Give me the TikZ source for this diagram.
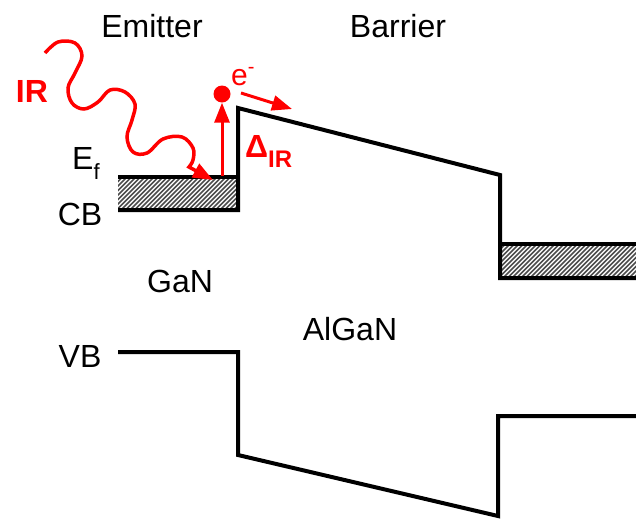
\documentclass[tikz,border=0pt]{standalone}
\usepackage{fontspec}
\setmainfont{Liberation Sans}
\usetikzlibrary{arrows.meta}
\definecolor{irred}{RGB}{255,0,0}
\begin{document}
\begin{tikzpicture}[x=1pt,y=-1pt,
  band/.style={line width=4pt,line join=miter},
  hatchline/.style={line width=1.6pt,black!70},
  lbl/.style={inner sep=0pt,anchor=base,font=\fontsize{32}{36}\selectfont},
  redlbl/.style={inner sep=0pt,anchor=base west,text=irred,font=\fontsize{32}{36}\selectfont\bfseries},
  redarrow/.style={irred,line width=3pt,-{Triangle[length=20pt,width=15pt]}},
  wave/.style={irred,line width=3.5pt}]
\useasboundingbox (0,0) rectangle (636,520);
% hatched Fermi seas
\begin{scope}
  \clip (118,177) rectangle (238,210);
  \foreach \i in {0,4.5,...,170} \draw[hatchline] (118+\i-40,217) -- (118+\i,177);
\end{scope}
\begin{scope}
  \clip (500,244) rectangle (636,278);
  \foreach \i in {0,4.5,...,190} \draw[hatchline] (500+\i-40,285) -- (500+\i,245);
\end{scope}
% conduction band
\draw[band] (118,210) -- (238,210) -- (238,108) -- (500,175) -- (500,278) -- (636,278);
\draw[band] (118,177) -- (238,177);
\draw[band] (500,244) -- (636,244);
% valence band
\draw[band] (118,352) -- (238,352) -- (238,455) -- (498,516) -- (498,416) -- (636,416);
% labels
\node[lbl] (emitter) at (152,37) {Emitter};
\node[lbl] (barrier) at (398,37) {Barrier};
\node[lbl] (cb) at (80,225) {CB};
\node[lbl] (vb) at (80,367) {VB};
\node[lbl] (gan) at (180,292) {GaN};
\node[lbl] (algan) at (350,340) {AlGaN};
\node[lbl,anchor=base west] (ef) at (72,169) {E\raisebox{-10pt}{\fontsize{22}{22}\selectfont f}};
\node[redlbl,anchor=base] (ir) at (32,102) {IR};
\node[redlbl] (delta) at (245,157) {Δ\raisebox{-10pt}{\fontsize{24}{24}\selectfont\bfseries IR}};
\node[redlbl,font=\fontsize{30}{34}\selectfont] (elec) at (231,85) {e\raisebox{12pt}{\fontsize{20}{20}\selectfont -}};
% electron
\node[circle,fill=irred,inner sep=0pt,minimum size=17pt] (dot) at (222,94) {};
\coordinate (efpt) at (222,176);
\coordinate (wtip) at (213,180);
\coordinate (estart) at (241,93);
\coordinate (eend) at (292,109);
\draw[redarrow] (efpt) -- (dot.south);
\draw[redarrow] (estart) -- (eend);
% IR photon
\draw[wave,-{Triangle[length=20pt,width=15pt]}] plot[smooth,tension=0.6] coordinates
 {(45,53) (58,42) (75,43) (82,56) (75,73) (68,88) (72,103) (84,109) (98,102) (110,90) (125,92) (135,104) (132,120) (127,137) (133,152) (147,153) (163,139) (182,137) (193,148) (193,160) (189,167)} -- (wtip);
\end{tikzpicture}
\end{document}
